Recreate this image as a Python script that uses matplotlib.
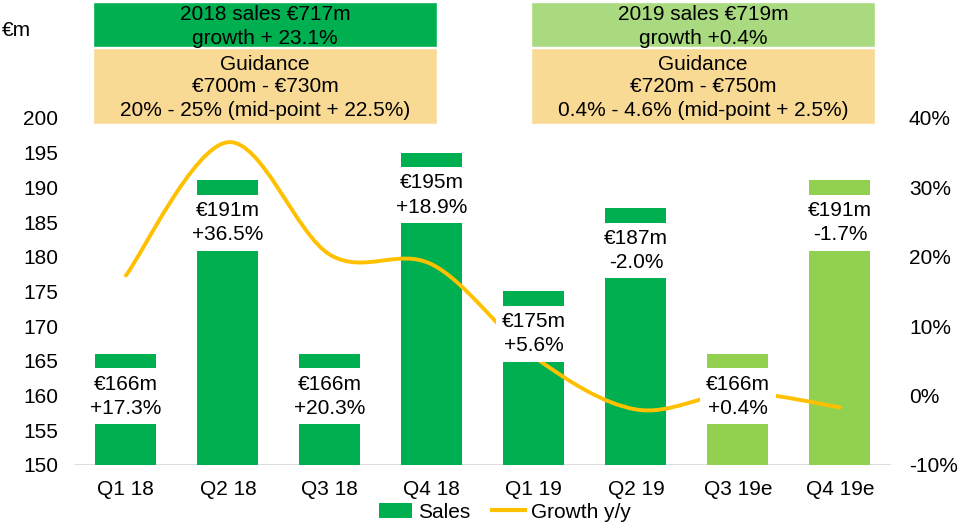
import numpy as np
import matplotlib.pyplot as plt
from matplotlib.path import Path
from matplotlib.patches import PathPatch, Patch, Rectangle
from matplotlib.lines import Line2D

quarters = ["Q1 18", "Q2 18", "Q3 18", "Q4 18", "Q1 19", "Q2 19", "Q3 19e", "Q4 19e"]
sales = [166, 191, 166, 195, 175, 187, 166, 191]
growth = [17.3, 36.5, 20.3, 18.9, 5.6, -2.0, 0.4, -1.7]
estimate = [False, False, False, False, False, False, True, True]

box_2018 = ["2018 sales €717m", "growth + 23.1%"]
guide_2018 = ["Guidance", "€700m - €730m", "20% - 25% (mid-point + 22.5%)"]
box_2019 = ["2019 sales €719m", "growth +0.4%"]
guide_2019 = ["Guidance", "€720m - €750m", "0.4% - 4.6% (mid-point + 2.5%)"]

GREEN = "#00B050"
LIGHT_GREEN = "#92D050"
GOLD = "#FFC000"
FS = 15

plt.rcParams["font.family"] = ["Liberation Sans", "DejaVu Sans"]

fig = plt.figure(figsize=(9.6, 5.23), dpi=100)
ax = fig.add_axes([0.078, 0.111, 0.850, 0.6635])
ax2 = ax.twinx()

x = np.arange(len(quarters))
colors = [LIGHT_GREEN if e else GREEN for e in estimate]
ax.bar(x, sales, width=0.6, color=colors, zorder=2)
ax.axhline(150, color="#D9D9D9", linewidth=2, zorder=1)

ax.set_xlim(-0.5, len(quarters) - 0.5)
ax.set_ylim(150, 200)
ax.set_yticks(range(150, 201, 5))
ax.set_xticks(x)
ax.set_xticklabels(quarters, fontsize=FS)
ax.tick_params(axis="y", length=0, pad=12, labelsize=FS)
ax.tick_params(axis="x", length=0, pad=11)

ax2.set_ylim(-10, 40)
ticks = list(range(-10, 41, 10))
ax2.set_yticks(ticks)
ax2.set_yticklabels([f"{t}%" for t in ticks], fontsize=FS)
ax2.tick_params(axis="y", length=0, pad=13)

for a in (ax, ax2):
    for s in a.spines.values():
        s.set_visible(False)

# smoothed growth line (cubic bezier through the points, like excel smoothing)
pts = np.column_stack([x, growth]).astype(float)
n = len(pts)
verts = [pts[0]]
codes = [Path.MOVETO]
for i in range(n - 1):
    p0 = pts[i - 1] if i > 0 else pts[i]
    p1, p2 = pts[i], pts[i + 1]
    p3 = pts[i + 2] if i + 2 < n else pts[i + 1]
    verts += [p1 + (p2 - p0) / 6, p2 - (p3 - p1) / 6, p2]
    codes += [Path.CURVE4] * 3
ax2.add_patch(PathPatch(Path(verts, codes), facecolor="none", edgecolor=GOLD,
                        linewidth=2.8, capstyle="round", zorder=3))

for i, (s, g) in enumerate(zip(sales, growth)):
    ax2.annotate(f"€{s}m\n{g:+.1f}%", xy=(i, s), xycoords=ax.transData,
                 xytext=(0, -30.5), textcoords="offset points",
                 ha="center", va="center", fontsize=FS, linespacing=1.35,
                 bbox=dict(boxstyle="square,pad=0.3", fc="white", ec="none"),
                 zorder=5)

# header boxes
def header(x0, top_color, top_lines, guide_lines):
    w = 344 / 960
    fig.add_artist(Rectangle((x0, 1 - 47 / 523), w, 45 / 523, transform=fig.transFigure,
                             facecolor=top_color, edgecolor="white", linewidth=1))
    fig.add_artist(Rectangle((x0, 1 - 124 / 523), w, 76 / 523, transform=fig.transFigure,
                             facecolor="#F9DA95", edgecolor="white", linewidth=1))
    cx = x0 + w / 2
    for txt, yp in zip(top_lines, [15, 38]):
        fig.text(cx, 1 - yp / 523, txt, ha="center", va="center", fontsize=FS)
    for txt, yp in zip(guide_lines, [64, 87, 110]):
        fig.text(cx, 1 - yp / 523, txt, ha="center", va="center", fontsize=FS)


header(93 / 960, GREEN, box_2018, guide_2018)
header(531 / 960, "#A9DA7F", box_2019, guide_2019)

fig.text(0.002, 1 - 30 / 523, "€m", ha="left", va="center", fontsize=FS)

handles = [Patch(facecolor=GREEN), Line2D([0], [0], color=GOLD, linewidth=3)]
fig.legend(handles, ["Sales", "Growth y/y"], loc="center", bbox_to_anchor=(0.526, 0.021),
           ncol=2, frameon=False, fontsize=FS, handlelength=1.6, handletextpad=0.3,
           columnspacing=1.0, borderaxespad=0, borderpad=0)

fig.savefig("out.png", dpi=100, facecolor="white")
